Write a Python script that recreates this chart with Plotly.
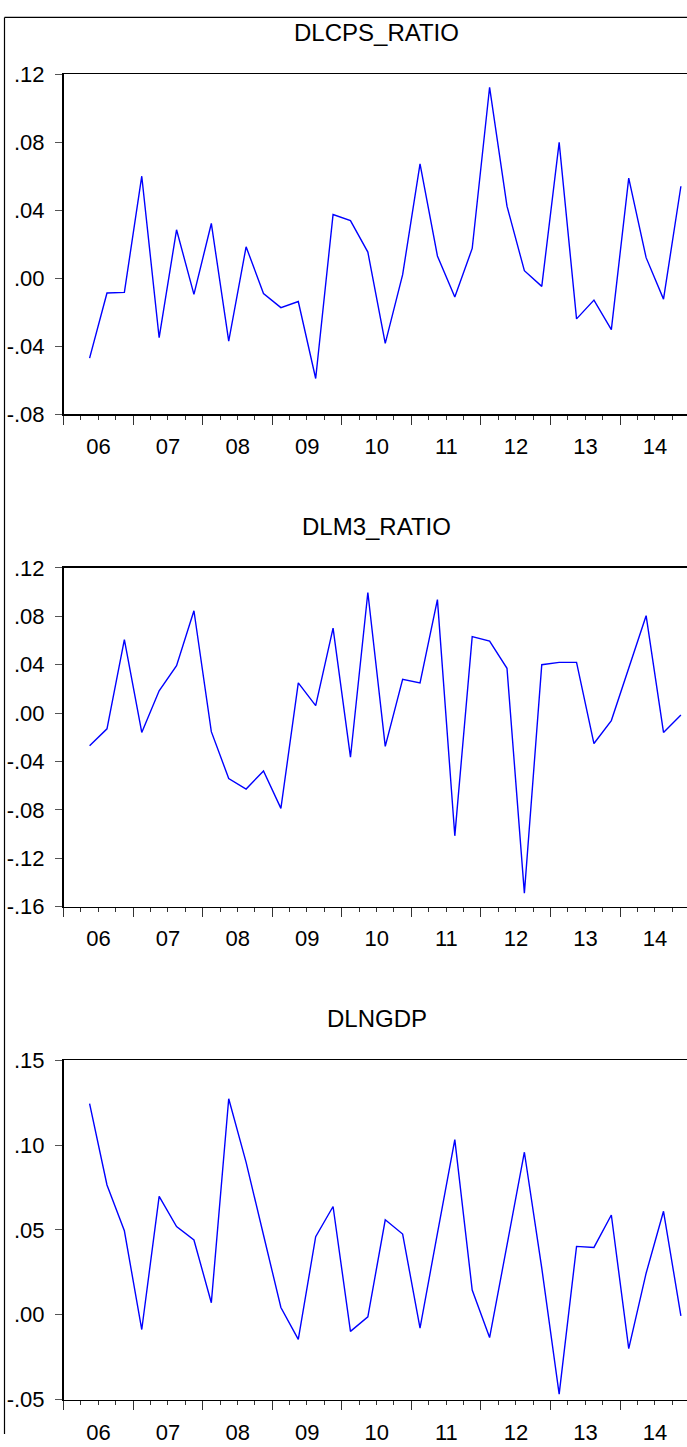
import plotly.graph_objects as go

# ---- data (quarterly, 2006Q2 .. 2014Q4) ----
start_year = 2006
first_quarter = 2  # 2006Q2
dlcps_ratio = [-0.047, -0.0087, -0.0083, 0.060, -0.035, 0.0285, -0.0095, 0.0322, -0.037,
               0.0185, -0.009, -0.0173, -0.0137, -0.059, 0.0375, 0.0339, 0.0154, -0.0383,
               0.0021, 0.0672, 0.0131, -0.011, 0.0175, 0.1123, 0.0424, 0.0044, -0.0048,
               0.0799, -0.0239, -0.0129, -0.0302, 0.0589, 0.0121, -0.0123, 0.0541]
dlm3_ratio = [-0.0271, -0.013, 0.0608, -0.016, 0.0184, 0.0392, 0.0846, -0.0154, -0.0541,
              -0.0628, -0.0479, -0.0788, 0.0249, 0.0062, 0.0703, -0.0365, 0.0997, -0.0276,
              0.0278, 0.0249, 0.0938, -0.1015, 0.0632, 0.0595, 0.037, -0.1489, 0.040,
              0.0419, 0.0419, -0.0252, -0.0062, 0.037, 0.0805, -0.016, -0.0016]
dlngdp = [0.1244, 0.0765, 0.0495, -0.0087, 0.0698, 0.052, 0.0441, 0.0071, 0.1273,
          0.0898, 0.047, 0.0043, -0.0145, 0.046, 0.0638, -0.0098, -0.0012, 0.056,
          0.0476, -0.0079, 0.048, 0.1032, 0.0146, -0.0134, 0.041, 0.0958, 0.0275,
          -0.0468, 0.0403, 0.0397, 0.0588, -0.020, 0.0245, 0.061, -0.0006]

titles = ["DLCPS_RATIO", "DLM3_RATIO", "DLNGDP"]
year_labels = ["06", "07", "08", "09", "10", "11", "12", "13", "14"]
year_ticks = [2006, 2007, 2008, 2009, 2010, 2011, 2012, 2013, 2014]

y1_ticks = [0.12, 0.08, 0.04, 0.00, -0.04, -0.08]
y1_text = [".12", ".08", ".04", ".00", "-.04", "-.08"]
y2_ticks = [0.12, 0.08, 0.04, 0.00, -0.04, -0.08, -0.12, -0.16]
y2_text = [".12", ".08", ".04", ".00", "-.04", "-.08", "-.12", "-.16"]
y3_ticks = [0.15, 0.10, 0.05, 0.00, -0.05]
y3_text = [".15", ".10", ".05", ".00", "-.05"]

# x positions: middle of each quarter
n = len(dlcps_ratio)
xq = [start_year + (first_quarter - 1 + i + 0.5) / 4 for i in range(n)]

W, H = 687, 1447
left_px = 63.5
right_px = 689.6          # axis end (2015Q1) lies just past the picture edge
x_end = 2006 + 9 * (W - left_px) / (right_px - left_px)

panels = [
    (dlcps_ratio, y1_ticks, y1_text, [-0.08, 0.12], (63.3, 409.3)),
    (dlm3_ratio, y2_ticks, y2_text, [-0.16, 0.12], (565.7, 910.3)),
    (dlngdp, y3_ticks, y3_text, [-0.05, 0.15], (1066.7, 1412.0)),
]

FONT = "Liberation Sans, Arial, sans-serif"
fig = go.Figure()
layout = dict(
    width=W, height=H, margin=dict(l=0, r=0, t=0, b=0),
    paper_bgcolor="white", plot_bgcolor="white", showlegend=False,
    font=dict(family=FONT, color="black"), hovermode=False,
)
annotations = []
year_px = (right_px - left_px) / 9

for k, (vals, tv, tt, rng, (top, bot)) in enumerate(panels, start=1):
    xa = "x" if k == 1 else f"x{k}"
    ya = "y" if k == 1 else f"y{k}"
    fig.add_trace(go.Scatter(x=xq, y=vals, mode="lines",
                             line=dict(color="#0000ff", width=1.4),
                             xaxis=xa, yaxis=ya, hoverinfo="skip"))
    dom_y = [(H - bot) / H, (H - top) / H]
    layout[f"xaxis{'' if k == 1 else k}"] = dict(
        domain=[left_px / W, 1.0], range=[2006, x_end], anchor=ya,
        showgrid=False, zeroline=False, showline=True, linecolor="black",
        linewidth=1.5, mirror=True,
        tickmode="array", tickvals=year_ticks, ticktext=year_labels,
        ticks="outside", ticklen=9, tickwidth=1, tickcolor="#333333",
        ticklabelshift=int(round(year_px / 2)), ticklabelstandoff=3,
        tickfont=dict(family=FONT, size=22, color="black"),
        minor=dict(dtick=0.25, tick0=2006, ticks="outside", ticklen=4,
                   tickwidth=1, tickcolor="#333333", showgrid=False),
    )
    layout[f"yaxis{'' if k == 1 else k}"] = dict(
        domain=dom_y, range=rng, anchor=xa,
        showgrid=False, zeroline=False, showline=True, linecolor="black",
        linewidth=1.5, mirror=False,
        tickmode="array", tickvals=tv, ticktext=tt,
        ticks="outside", ticklen=7, tickwidth=1, tickcolor="#555555",
        ticklabelstandoff=6,
        tickfont=dict(family=FONT, size=22, color="black"),
    )
    annotations.append(dict(
        text=titles[k - 1], xref="paper", yref="paper",
        x=((left_px + right_px) / 2) / W, y=(H - (top - 42)) / H,
        xanchor="center", yanchor="middle", showarrow=False,
        font=dict(family=FONT, size=24, color="black"),
    ))

layout["annotations"] = annotations
layout["shapes"] = [
    dict(type="line", xref="paper", yref="paper", x0=4.5 / W, x1=1.0,
         y0=(H - 5.5) / H, y1=(H - 5.5) / H, line=dict(color="black", width=1.2)),
    dict(type="line", xref="paper", yref="paper", x0=4.5 / W, x1=4.5 / W,
         y0=0, y1=(H - 5.5) / H, line=dict(color="black", width=1.2)),
]
fig.update_layout(**layout)
fig.write_html(
    "out.html",
    config={"displayModeBar": False, "staticPlot": True},
    post_script="document.body.style.margin='0';document.body.style.padding='0';"
                "document.body.style.overflow='hidden';",
)
